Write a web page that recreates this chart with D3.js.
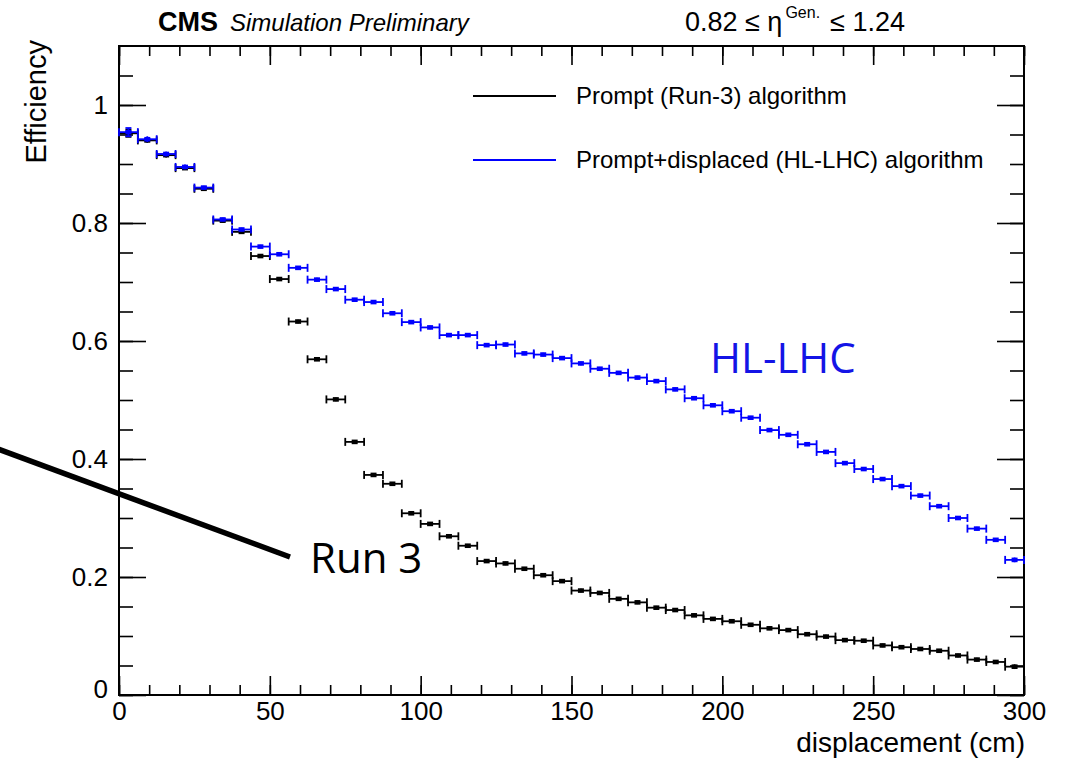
<!DOCTYPE html>
<html>
<head>
<meta charset="utf-8">
<script src="https://cdn.jsdelivr.net/npm/d3@7"></script>
<style>
  body { margin: 0; background: #fff; }
  svg { display: block; }
  .axis path { display: none; }
  .axis line { stroke: #000; stroke-width: 1.6px; }
  .axis text { font-family: "Liberation Sans", Arial, sans-serif; font-size: 26px; fill: #000; }
</style>
</head>
<body>
<svg id="chart" width="1071" height="758"></svg>
<script>
// 48 displacement bins of 6.25 cm between 0 and 300 cm
const binEdgesCm = [0, 300];
const binCount = 48;

// efficiency per bin
const run3Eff = [
  0.952, 0.940, 0.915, 0.893, 0.858, 0.804, 0.785, 0.744, 0.705, 0.633,
  0.569, 0.501, 0.429, 0.373, 0.358, 0.308, 0.290, 0.269, 0.253, 0.227,
  0.223, 0.214, 0.203, 0.193, 0.177, 0.173, 0.163, 0.157, 0.148, 0.144,
  0.135, 0.129, 0.125, 0.119, 0.113, 0.110, 0.103, 0.099, 0.093, 0.092,
  0.084, 0.081, 0.078, 0.075, 0.067, 0.060, 0.056, 0.048
];
const hllhcEff = [
  0.954, 0.942, 0.917, 0.895, 0.860, 0.806, 0.789, 0.760, 0.747, 0.724,
  0.704, 0.688, 0.670, 0.666, 0.647, 0.632, 0.623, 0.610, 0.610, 0.593,
  0.594, 0.579, 0.577, 0.571, 0.562, 0.553, 0.546, 0.538, 0.532, 0.518,
  0.503, 0.491, 0.481, 0.470, 0.449, 0.441, 0.425, 0.412, 0.393, 0.383,
  0.366, 0.354, 0.338, 0.320, 0.300, 0.282, 0.263, 0.229
];
// statistical uncertainty (mostly hidden under the markers)
const run3Err = [
  0.006, 0.004, 0.004, 0.003, 0.003, 0.003, 0.003, 0.003, 0.003, 0.003,
  0.003, 0.003, 0.003, 0.003, 0.003, 0.003, 0.003, 0.003, 0.003, 0.003,
  0.003, 0.003, 0.003, 0.003, 0.003, 0.003, 0.003, 0.003, 0.003, 0.003,
  0.003, 0.003, 0.003, 0.003, 0.003, 0.003, 0.003, 0.003, 0.003, 0.003,
  0.003, 0.003, 0.003, 0.003, 0.003, 0.003, 0.003, 0.004
];
const hllhcErr = [
  0.007, 0.005, 0.004, 0.004, 0.003, 0.003, 0.003, 0.003, 0.003, 0.003,
  0.003, 0.003, 0.003, 0.003, 0.003, 0.003, 0.003, 0.003, 0.003, 0.003,
  0.003, 0.003, 0.003, 0.003, 0.003, 0.003, 0.003, 0.003, 0.003, 0.003,
  0.003, 0.003, 0.003, 0.003, 0.003, 0.003, 0.003, 0.003, 0.003, 0.003,
  0.003, 0.003, 0.003, 0.003, 0.003, 0.003, 0.003, 0.004
];

const xMajorTicks = [0, 50, 100, 150, 200, 250, 300];
const yMajorTicks = [0, 0.2, 0.4, 0.6, 0.8, 1.0];
const yMax = 1.1;

const series = [
  { name: 'Prompt (Run-3) algorithm', color: '#000000', eff: run3Eff, err: run3Err },
  { name: 'Prompt+displaced (HL-LHC) algorithm', color: '#0000ff', eff: hllhcEff, err: hllhcErr },
];

const svg = d3.select('#chart');
const W = +svg.attr('width');
const H = +svg.attr('height');
const frame = { left: 119, right: 1024, top: 46, bottom: 695 };

svg.append('rect').attr('width', W).attr('height', H).attr('fill', '#fff');

const x = d3.scaleLinear().domain(binEdgesCm).range([frame.left, frame.right]);
const y = d3.scaleLinear().domain([0, yMax]).range([frame.bottom, frame.top]);

const binW = (binEdgesCm[1] - binEdgesCm[0]) / binCount;
const bins = d3.range(binCount).map(i => binEdgesCm[0] + i * binW);

// axes, ROOT style: ticks inside the frame on all four sides
const xMinor = d3.range(0, 301, 10);
const yMinor = d3.range(0, 1.0801, 0.05);
const plotH = frame.bottom - frame.top;
const plotW = frame.right - frame.left;

function addAxis(gen, tx, ty, cls) {
  svg.append('g').attr('class', 'axis ' + cls)
    .attr('transform', `translate(${tx},${ty})`)
    .call(gen);
}

addAxis(d3.axisBottom(x).tickValues(xMinor).tickSize(-10).tickFormat(''), 0, frame.bottom, 'x-minor');
addAxis(d3.axisBottom(x).tickValues(xMajorTicks).tickSize(-19).tickPadding(7).tickFormat(d3.format('d')), 0, frame.bottom, 'x-major');
addAxis(d3.axisTop(x).tickValues(xMinor).tickSize(-10).tickFormat(''), 0, frame.top, 'x-top');
addAxis(d3.axisTop(x).tickValues(xMajorTicks).tickSize(-19).tickFormat(''), 0, frame.top, 'x-top');

addAxis(d3.axisLeft(y).tickValues(yMinor).tickSize(-14).tickFormat(''), frame.left, 0, 'y-minor');
addAxis(d3.axisLeft(y).tickValues(yMajorTicks).tickSize(-27).tickPadding(11)
  .tickFormat(d => d === 0 ? '0' : d === 1 ? '1' : d3.format('.1f')(d)), frame.left, 0, 'y-major');
addAxis(d3.axisRight(y).tickValues(yMinor).tickSize(-14).tickFormat(''), frame.right, 0, 'y-right');
addAxis(d3.axisRight(y).tickValues(yMajorTicks).tickSize(-27).tickFormat(''), frame.right, 0, 'y-right');

// nudge the origin label like ROOT does
svg.select('.y-major').selectAll('.tick text').filter(d => d === 0).attr('dy', '0.1em');

svg.append('rect')
  .attr('x', frame.left).attr('y', frame.top)
  .attr('width', plotW).attr('height', plotH)
  .attr('fill', 'none').attr('stroke', '#000').attr('stroke-width', 2);

// data: horizontal bin-width bar with end caps, vertical error bar, square marker
const capH = 4;
series.forEach(s => {
  const g = svg.append('g').attr('class', 'series')
    .attr('stroke', s.color).attr('fill', s.color);
  const pts = g.selectAll('g.pt').data(bins.map((lo, i) => ({ lo, hi: lo + binW, v: s.eff[i], e: s.err[i] })))
    .join('g').attr('class', 'pt');
  pts.append('line')
    .attr('x1', d => x(d.lo)).attr('x2', d => x(d.hi))
    .attr('y1', d => y(d.v)).attr('y2', d => y(d.v))
    .attr('stroke-width', 1.8);
  pts.append('line')
    .attr('x1', d => x(d.lo)).attr('x2', d => x(d.lo))
    .attr('y1', d => y(d.v) - capH).attr('y2', d => y(d.v) + capH)
    .attr('stroke-width', 1.8);
  pts.append('line')
    .attr('x1', d => x(d.hi)).attr('x2', d => x(d.hi))
    .attr('y1', d => y(d.v) - capH).attr('y2', d => y(d.v) + capH)
    .attr('stroke-width', 1.8);
  pts.append('line')
    .attr('x1', d => x((d.lo + d.hi) / 2)).attr('x2', d => x((d.lo + d.hi) / 2))
    .attr('y1', d => y(d.v - d.e)).attr('y2', d => y(d.v + d.e))
    .attr('stroke-width', 1.8);
  pts.filter(d => y(d.v - d.e) - y(d.v + d.e) > 6).each(function(d) {
    const cx = x((d.lo + d.hi) / 2);
    d3.select(this).selectAll('line.cap')
      .data([d.v - d.e, d.v + d.e]).join('line').attr('class', 'cap')
      .attr('x1', cx - 3).attr('x2', cx + 3)
      .attr('y1', v => y(v)).attr('y2', v => y(v))
      .attr('stroke-width', 1.8);
  });
  pts.append('rect')
    .attr('x', d => x((d.lo + d.hi) / 2) - 3)
    .attr('y', d => y(d.v) - 2.3)
    .attr('width', 6).attr('height', 4.6)
    .attr('stroke', 'none');
});

// legend
const legend = svg.append('g').attr('class', 'legend')
  .attr('font-family', '"Liberation Sans", Arial, sans-serif').attr('font-size', 24);
series.forEach((s, i) => {
  const ly = 96 + i * 64;
  legend.append('line')
    .attr('x1', 473).attr('x2', 556).attr('y1', ly).attr('y2', ly)
    .attr('stroke', s.color).attr('stroke-width', 1.8);
  legend.append('text')
    .attr('x', 576).attr('y', ly).attr('dy', '0.35em').text(s.name);
});

// axis titles
svg.append('text')
  .attr('x', frame.right + 1).attr('y', 752)
  .attr('text-anchor', 'end')
  .attr('font-family', '"Liberation Sans", Arial, sans-serif').attr('font-size', 28)
  .text('displacement (cm)');
svg.append('text')
  .attr('transform', `translate(46,${frame.top - 6}) rotate(-90)`)
  .attr('text-anchor', 'end')
  .attr('font-family', '"Liberation Sans", Arial, sans-serif').attr('font-size', 29)
  .text('Efficiency');

// header
const head = svg.append('text').attr('x', 158).attr('y', 31)
  .attr('font-family', '"Liberation Sans", Arial, sans-serif');
head.append('tspan').attr('font-weight', 'bold').attr('font-size', 27).text('CMS');
head.append('tspan').attr('font-style', 'italic').attr('font-size', 24).attr('dx', 12).text('Simulation Preliminary');

const eta = svg.append('text').attr('x', 685).attr('y', 31)
  .attr('font-family', '"Liberation Sans", Arial, sans-serif').attr('font-size', 27);
eta.append('tspan').text('0.82 \u2264 \u03b7');
eta.append('tspan').attr('font-size', 16).attr('dy', -13).attr('dx', 3).text('Gen.');
eta.append('tspan').attr('dy', 13).attr('dx', 10).text('\u2264 1.24');

// annotations
svg.append('text')
  .attr('x', 710).attr('y', 373)
  .attr('font-family', '"Open Sans", sans-serif').attr('font-size', 42)
  .attr('fill', '#1414e6').text('HL-LHC');
svg.append('text')
  .attr('x', 310).attr('y', 573)
  .attr('font-family', '"Open Sans", sans-serif').attr('font-size', 42)
  .attr('fill', '#000').text('Run 3');
svg.append('line')
  .attr('x1', -2).attr('y1', 449).attr('x2', 290).attr('y2', 557)
  .attr('stroke', '#000').attr('stroke-width', 5.5);
</script>
</body>
</html>
